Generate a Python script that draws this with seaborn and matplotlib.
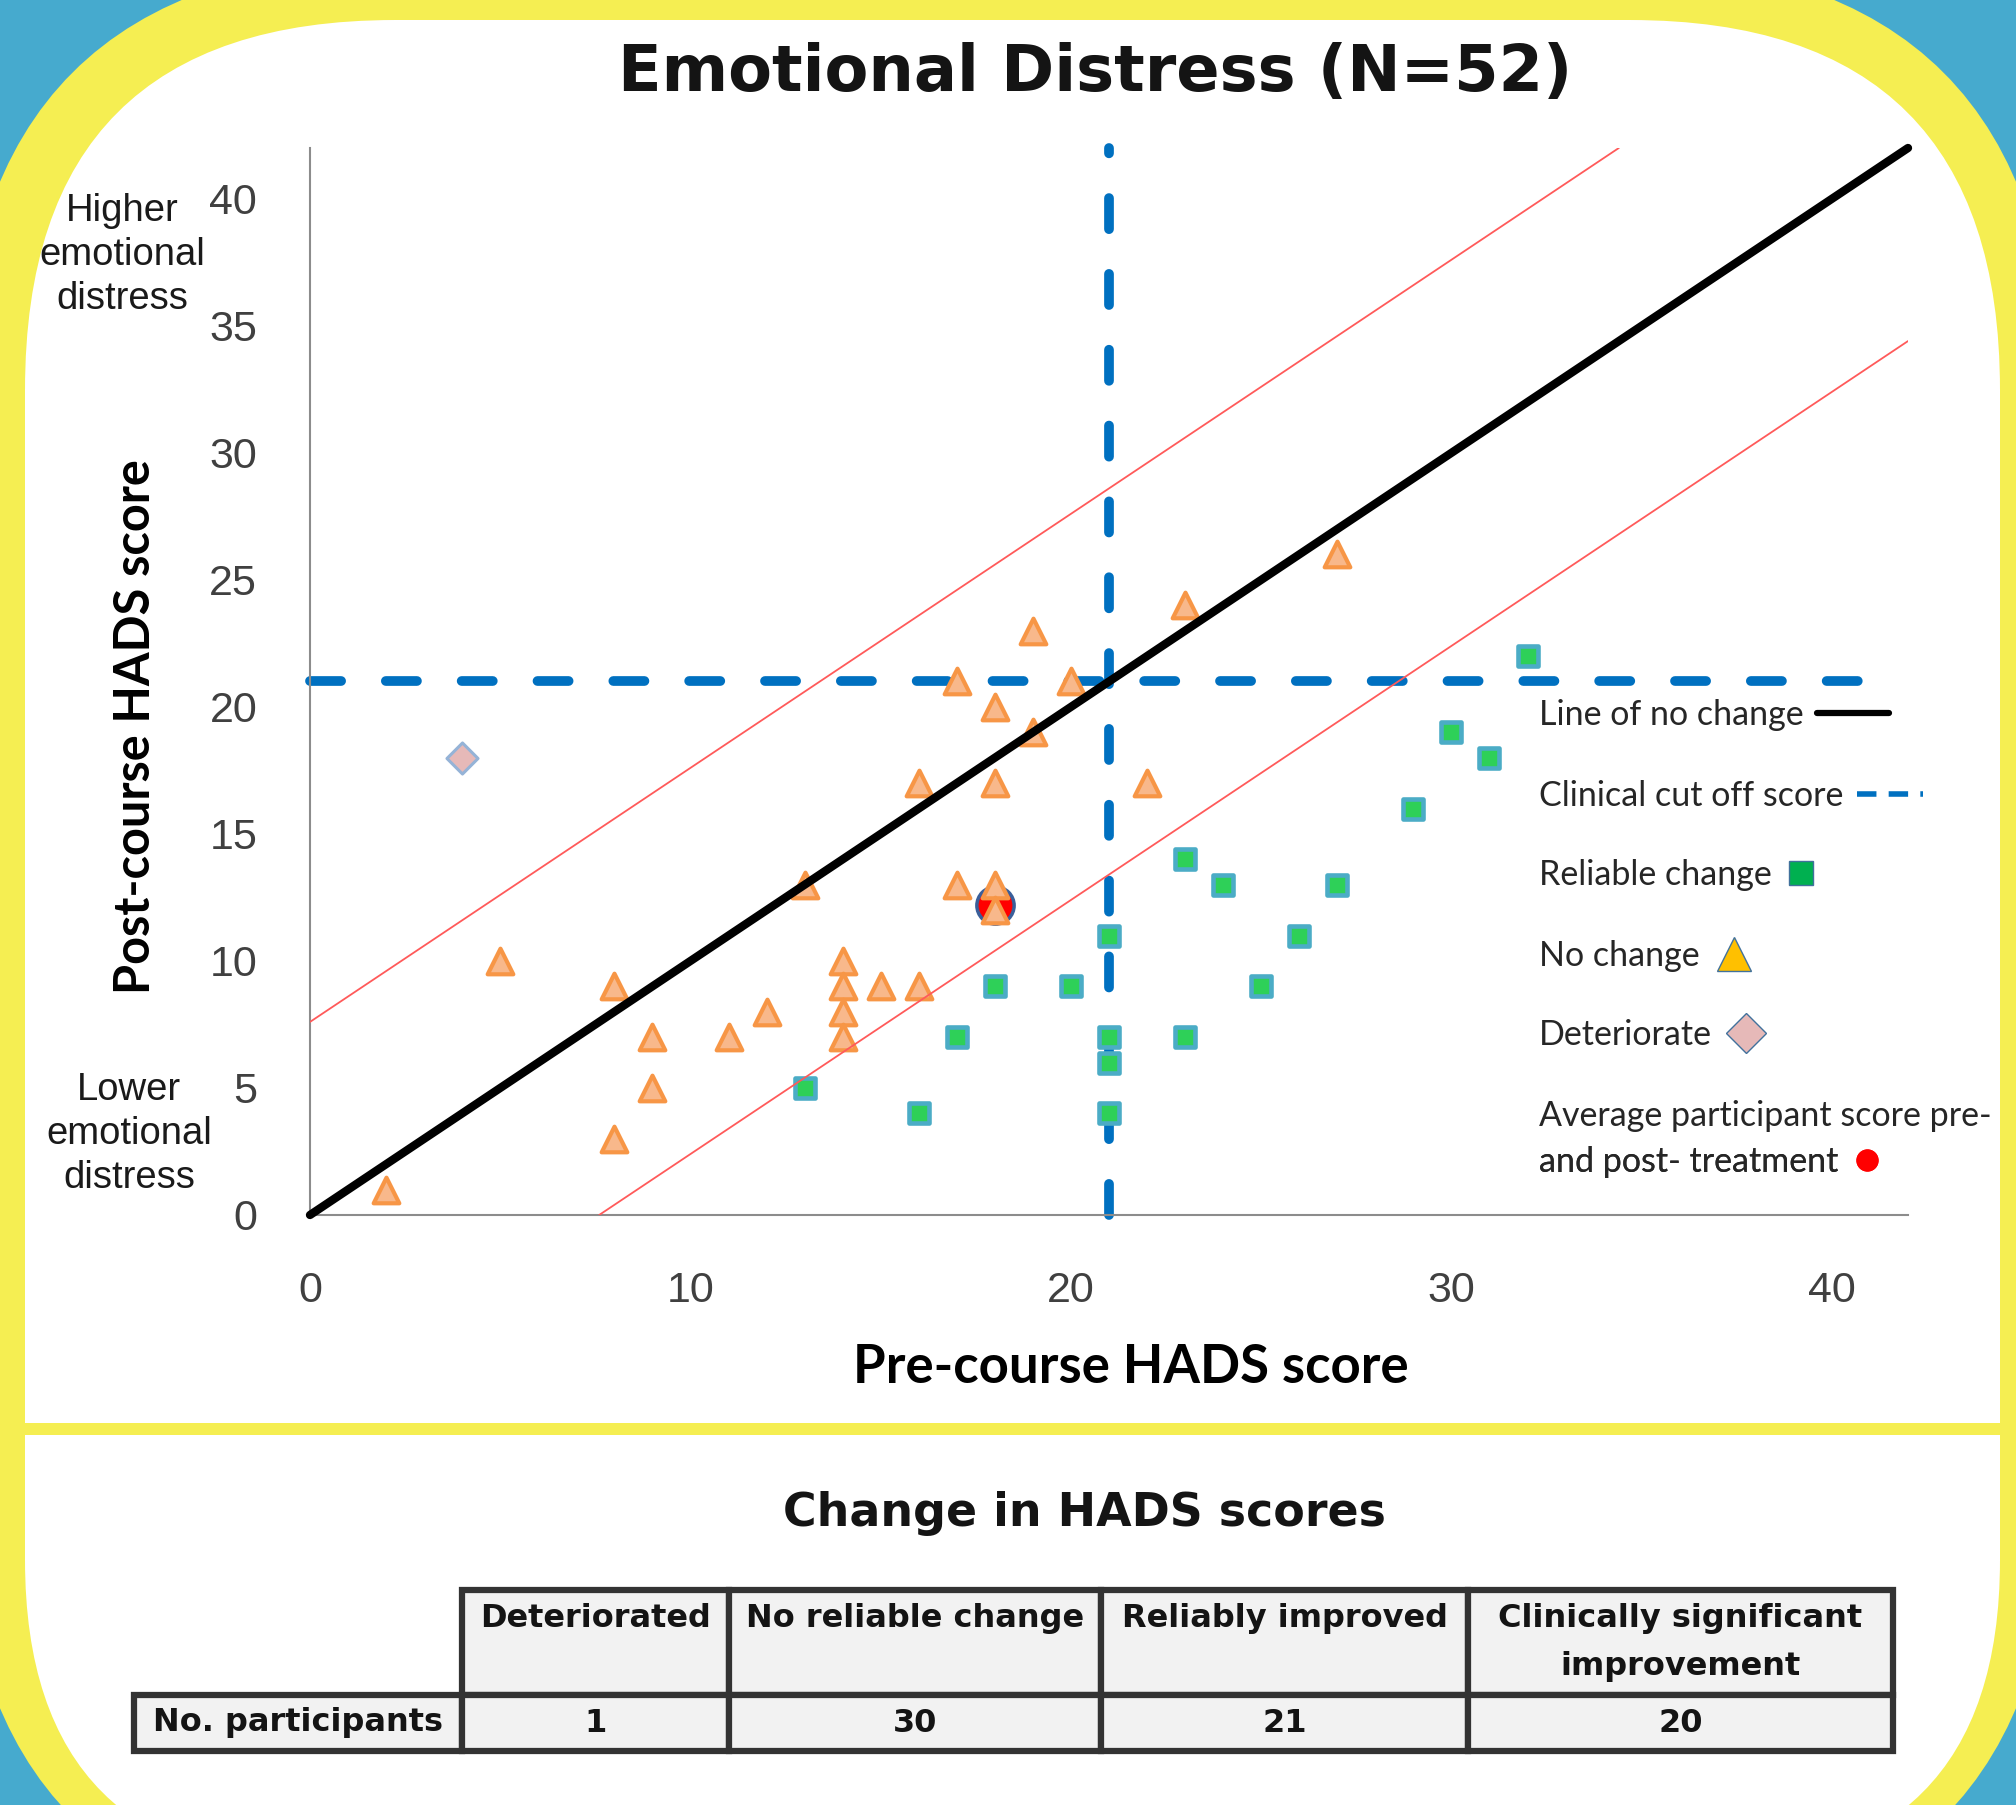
import matplotlib
matplotlib.use("Agg")
import matplotlib.pyplot as plt
from matplotlib.lines import Line2D
from matplotlib.patches import FancyBboxPatch, Rectangle
import seaborn as sns
import pandas as pd

# values
no_change_pre = [2, 5, 8, 8, 9, 9, 11, 12, 13, 14, 14, 14, 14, 15, 16, 16, 17, 17,
                 18, 18, 18, 18, 19, 19, 20, 22, 23, 27]
no_change_post = [1, 10, 9, 3, 7, 5, 7, 8, 13, 10, 9, 8, 7, 9, 9, 17, 21, 13,
                  20, 17, 13, 12, 23, 19, 21, 17, 24, 26]
reliable_pre = [13, 16, 17, 18, 20, 21, 21, 21, 21, 23, 23, 24, 25, 26, 27, 29, 30, 31, 32]
reliable_post = [5, 4, 7, 9, 9, 11, 7, 6, 4, 14, 7, 13, 9, 11, 13, 16, 19, 18, 22]
deteriorate_pre = [4]
deteriorate_post = [18]
average_pre = [18.0]
average_post = [12.2]

no_change_line_x = [0, 42]
no_change_line_y = [0, 42]
upper_rci_x = [0, 34.4]
upper_rci_y = [7.6, 42]
lower_rci_x = [7.6, 42]
lower_rci_y = [0, 34.4]
cutoff_h_x = [0, 41.1]
cutoff_h_y = [21, 21]
cutoff_v_x = [21, 21]
cutoff_v_y = [0, 42]

x_ticks = [0, 10, 20, 30, 40]
y_ticks = [0, 5, 10, 15, 20, 25, 30, 35, 40]

table_header = ["Deteriorated", "No reliable change", "Reliably improved",
                "Clinically significant\nimprovement"]
table_row_label = "No. participants"
table_counts = [1, 30, 21, 20]

BLUE_BG = "#46AACE"
YELLOW = "#F5EE52"

sns.set_theme(style="white")
plt.rcParams["font.family"] = ["Lato", "DejaVu Sans"]

fig = plt.figure(figsize=(20.16, 18.05), dpi=100)
fig.patch.set_facecolor(BLUE_BG)

# rounded poster background
bg = fig.add_axes([0, 0, 1, 1], zorder=-10)
bg.set_xlim(0, 2016)
bg.set_ylim(1805, 0)
bg.axis("off")
bg.add_patch(Rectangle((0, 0), 2016, 1805, fc=BLUE_BG, ec="none"))
bg.add_patch(FancyBboxPatch((-40, -40), 2096, 1970, boxstyle="round,pad=0,rounding_size=450",
                            fc=YELLOW, ec="none"))
bg.add_patch(FancyBboxPatch((25, 20), 1975, 1000, boxstyle="round,pad=0,rounding_size=370",
                            fc="white", ec="none"))
bg.add_patch(Rectangle((25, 400), 1975, 1100, fc="white", ec="none"))
bg.add_patch(FancyBboxPatch((25, 900), 1975, 970, boxstyle="round,pad=0,rounding_size=310",
                            fc="white", ec="none"))
bg.add_patch(Rectangle((25, 1423), 1975, 12, fc=YELLOW, ec="none"))

ax = fig.add_axes([0.15377, 0.32687, 0.79266, 0.59114])
ax.patch.set_facecolor("none")

# reference lines
dash_kw = dict(color="#0070C0", lw=7, dashes=(3.2, 4.6), dash_capstyle="round",
               zorder=1, clip_on=False)
ax.plot(cutoff_h_x, cutoff_h_y, **dash_kw)
ax.plot(cutoff_v_x, cutoff_v_y, **dash_kw)

nc_df = pd.DataFrame({"pre": no_change_pre, "post": no_change_post})
rc_df = pd.DataFrame({"pre": reliable_pre, "post": reliable_post})
det_df = pd.DataFrame({"pre": deteriorate_pre, "post": deteriorate_post})
avg_df = pd.DataFrame({"pre": average_pre, "post": average_post})

sns.scatterplot(data=avg_df, x="pre", y="post", ax=ax, marker="o", s=720, color="#FF0000",
                edgecolor="#3A5F9A", linewidth=2.5, zorder=2, legend=False)
sns.scatterplot(data=rc_df, x="pre", y="post", ax=ax, marker="s", s=200, color="#2ED058",
                edgecolor="#4BACC6", linewidth=3.3, zorder=3, legend=False)
sns.scatterplot(data=nc_df, x="pre", y="post", ax=ax, marker="^", s=340, color="#F8B88B",
                edgecolor="#F79646", linewidth=3, zorder=3, legend=False)
sns.scatterplot(data=det_df, x="pre", y="post", ax=ax, marker="D", s=250, color="#E6B9B8",
                edgecolor="#95B3D7", linewidth=2.2, zorder=3, legend=False)

ax.plot(upper_rci_x, upper_rci_y, color="#FF5A5A", lw=1.3, zorder=4)
ax.plot(lower_rci_x, lower_rci_y, color="#FF5A5A", lw=1.3, zorder=4)
ax.plot(no_change_line_x, no_change_line_y, color="black", lw=6,
        solid_capstyle="round", zorder=4, clip_on=False)

ax.set_xlim(0, 42)
ax.set_ylim(0, 42)
ax.set_xticks(x_ticks)
ax.set_yticks(y_ticks)
for side in ["top", "right"]:
    ax.spines[side].set_visible(False)
for side in ["left", "bottom"]:
    ax.spines[side].set_color("#8C8C8C")
    ax.spines[side].set_linewidth(1.5)
ax.tick_params(axis="both", direction="out", length=14, width=1.5, color="#8C8C8C",
               labelsize=31, labelcolor="#404040", labelfontfamily="Liberation Sans")
ax.tick_params(axis="y", pad=24)
ax.tick_params(axis="x", pad=26)

ax.set_xlabel("Pre-course HADS score", fontsize=38, fontweight="bold", color="black", va="center")
ax.set_ylabel("Post-course HADS score", fontsize=35, fontweight="bold", color="black", va="center")
ax.xaxis.set_label_coords(0.5138, -0.1425)
ax.yaxis.set_label_coords(-0.1095, 0.458)

fig.text(122 / 2016, 1 - 255 / 1805, "Higher\nemotional\ndistress", ha="center", va="center",
         fontsize=27.5, family="Liberation Sans", color="#1a1a1a", linespacing=1.3)
fig.text(129 / 2016, 1 - 1134 / 1805, "Lower\nemotional\ndistress", ha="center", va="center",
         fontsize=27.5, family="Liberation Sans", color="#1a1a1a", linespacing=1.3)

fig.text(1095 / 2016, 1 - 73 / 1805, "Emotional Distress (N=52)", ha="center", va="center",
         fontsize=46, fontweight="bold", family="DejaVu Sans", color="#141414")

# legend: one small legend per entry so the symbol follows its own text
legend_font = {"family": "Lato", "size": 24.5}


def legend_entry(label, handle, y, hl):
    leg = ax.legend([handle], [label], loc="center left", bbox_to_anchor=(32.3, y),
                    bbox_transform=ax.transData, frameon=False, markerfirst=False,
                    borderpad=0, borderaxespad=0, handlelength=hl, handletextpad=0.4,
                    prop=legend_font, numpoints=1)
    ax.add_artist(leg)


legend_entry("Line of no change", Line2D([], [], color="black", lw=4.5), 19.7, 2.1)
legend_entry("Clinical cut off score",
             Line2D([], [], color="#0070C0", lw=4, dashes=(3.5, 2.2)), 16.5, 1.95)
legend_entry("Reliable change", Line2D([], [], ls="none", marker="s", ms=17, mfc="#00B050",
                                       mec="#41719C", mew=1), 13.4, 0.9)
legend_entry("No change", Line2D([], [], ls="none", marker="^", ms=24, mfc="#FFC000",
                                 mec="#41719C", mew=1), 10.2, 1.2)
legend_entry("Deteriorate", Line2D([], [], ls="none", marker="D", ms=20, mfc="#E6B9B8",
                                   mec="#41719C", mew=1), 7.1, 1.2)
ax.text(32.3, 3.9, "Average participant score pre-", ha="left", va="center",
        fontdict=legend_font, clip_on=False)
legend_entry("and post- treatment", Line2D([], [], ls="none", marker="o", ms=15, mfc="#FF0000",
                                           mec="#FF0000"), 2.1, 0.9)

# summary table
fig.text(1084 / 2016, 1 - 1513 / 1805, "Change in HADS scores", ha="center", va="center",
         fontsize=33, fontweight="bold", family="DejaVu Sans", color="#141414")

tax = fig.add_axes([134 / 2016, 1 - 1751 / 1805, 1759 / 2016, 161 / 1805])
tax.axis("off")
col_w = [328, 267, 372, 367, 425]
header_cells = [""] + [h if "\n" in h else h + "\n " for h in table_header]
cell_text = [header_cells, [table_row_label] + [str(c) for c in table_counts]]
tbl = tax.table(cellText=cell_text, colWidths=[w / sum(col_w) for w in col_w],
                cellLoc="center", bbox=[0, 0, 1, 1])
tbl.auto_set_font_size(False)
tbl.set_fontsize(23)
for (r, c), cell in tbl.get_celld().items():
    cell.set_height(105 if r == 0 else 56)
    cell.set_facecolor("#F2F2F2")
    cell.set_edgecolor("#333333")
    cell.set_linewidth(4.5)
    cell.get_text().set_fontweight("bold")
    cell.get_text().set_family("DejaVu Sans")
    cell.get_text().set_color("#141414")
    cell.get_text().set_linespacing(1.7)
    if r == 0 and c == 0:
        cell.set_visible(False)

fig.savefig("out.png", dpi=100, facecolor=fig.get_facecolor())
